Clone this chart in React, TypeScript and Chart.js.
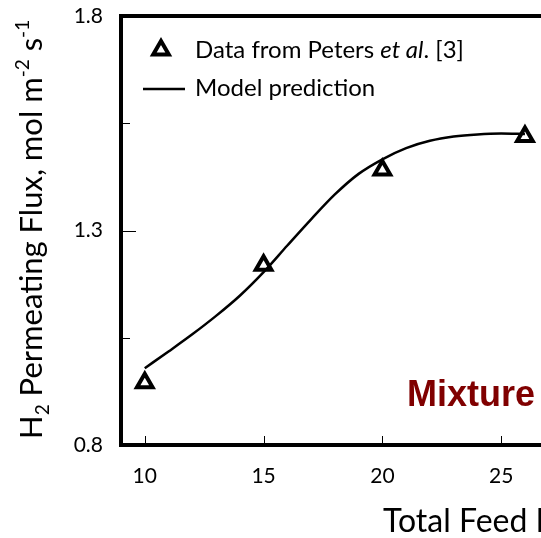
import React, { useEffect, useRef } from "react";
import { Chart, registerables } from "chart.js";

Chart.register(...registerables);

// Data
const dataX = [10, 15, 20, 26];
const dataY = [0.945, 1.219, 1.441, 1.519];
const modelX = [10, 11, 12, 13, 14, 15, 16, 17, 18, 19, 20, 21, 22, 23, 24, 25, 26];
const modelY = [0.979, 1.018, 1.058, 1.101, 1.148, 1.203, 1.265, 1.326, 1.384, 1.432, 1.466, 1.492, 1.509, 1.519, 1.524, 1.526, 1.525];
const xTickVals = [10, 15, 20, 25, 30];
const yTickVals = [0.8, 1.3, 1.8];
const yMinorTicks = [1.05, 1.55];

const FONT = "Lato, 'Open Sans', sans-serif";

type Seg = { t: string; font: string; dy?: number };
function drawRich(ctx: CanvasRenderingContext2D, segs: Seg[], x: number, y: number) {
  let cx = x;
  for (const s of segs) {
    ctx.font = s.font;
    ctx.fillText(s.t, cx, y + (s.dy || 0));
    cx += ctx.measureText(s.t).width;
  }
}

const decorPlugin = {
  id: "decor",
  afterDraw(chart: any) {
    const ctx: CanvasRenderingContext2D = chart.ctx;
    const a = chart.chartArea;
    const xs = chart.scales.x;
    const ys = chart.scales.y;
    ctx.save();
    ctx.strokeStyle = "#000";
    ctx.fillStyle = "#000";
    // inward ticks
    ctx.lineWidth = 1;
    ctx.beginPath();
    for (const v of xTickVals) {
      const px = Math.round(xs.getPixelForValue(v)) + 0.5;
      ctx.moveTo(px, a.bottom);
      ctx.lineTo(px, a.bottom - 9);
    }
    for (const v of yTickVals) {
      const py = Math.round(ys.getPixelForValue(v)) + 0.5;
      ctx.moveTo(a.left, py);
      ctx.lineTo(a.left + 15, py);
    }
    for (const v of yMinorTicks) {
      const py = Math.round(ys.getPixelForValue(v)) + 0.5;
      ctx.moveTo(a.left, py);
      ctx.lineTo(a.left + 9, py);
    }
    ctx.stroke();
    // frame
    ctx.lineWidth = 4;
    ctx.strokeRect(a.left, a.top, a.right - a.left, a.bottom - a.top);

    // legend
    ctx.textAlign = "left";
    ctx.textBaseline = "alphabetic";
    const lx = a.left + 40;
    const ly1 = a.top + 34;
    ctx.lineWidth = 4;
    ctx.lineJoin = "miter";
    ctx.beginPath();
    const r = 9;
    ctx.moveTo(lx, ly1 - r);
    ctx.lineTo(lx + r * 0.866, ly1 + r / 2);
    ctx.lineTo(lx - r * 0.866, ly1 + r / 2);
    ctx.closePath();
    ctx.stroke();
    const regular = `24px ${FONT}`;
    drawRich(ctx, [
      { t: "Data from Peters ", font: regular },
      { t: "et al", font: `italic 24px ${FONT}` },
      { t: ". [3]", font: regular },
    ], a.left + 74, a.top + 42);
    ctx.lineWidth = 2.5;
    ctx.beginPath();
    ctx.moveTo(a.left + 22, a.top + 73);
    ctx.lineTo(a.left + 64, a.top + 73);
    ctx.stroke();
    drawRich(ctx, [{ t: "Model prediction", font: regular }], a.left + 74, a.top + 80);

    // annotation
    ctx.fillStyle = "#800000";
    ctx.font = `bold 36px 'Liberation Sans', Arial, sans-serif`;
    ctx.fillText("Mixture", a.left + 286, a.bottom - 39);

    // x axis title
    ctx.fillStyle = "#000";
    drawRich(ctx, [{ t: "Total Feed Pressure, bar", font: `32px ${FONT}` }], a.left + 262, 532);

    // y axis title (rotated)
    ctx.translate(42, 439);
    ctx.rotate(-Math.PI / 2);
    const big = `31px ${FONT}`;
    const small = `19px ${FONT}`;
    drawRich(ctx, [
      { t: "H", font: big },
      { t: "2", font: small, dy: 7 },
      { t: " Permeating Flux, mol m", font: big },
      { t: "-2", font: small, dy: -13 },
      { t: " s", font: big },
      { t: "-1", font: small, dy: -13 },
    ], 0, 0);
    ctx.restore();
  },
};

export default function App() {
  const ref = useRef<HTMLCanvasElement>(null);
  useEffect(() => {
    const canvas = ref.current!;
    const chart = new Chart(canvas, {
      type: "scatter",
      data: {
        datasets: [
          {
            label: "Data from Peters et al. [3]",
            data: dataX.map((x, i) => ({ x, y: dataY[i] })),
            pointStyle: "triangle",
            pointRadius: 9,
            pointBorderWidth: 4,
            pointBorderColor: "#000",
            pointBackgroundColor: "rgba(0,0,0,0)",
            showLine: false,
          },
          {
            label: "Model prediction",
            data: modelX.map((x, i) => ({ x, y: modelY[i] })),
            showLine: true,
            borderColor: "#000",
            borderWidth: 2.5,
            pointRadius: 0,
            cubicInterpolationMode: "monotone",
          } as any,
        ],
      },
      options: {
        responsive: false,
        animation: false,
        devicePixelRatio: 1,
        layout: { padding: { left: 0, top: 16, right: 40, bottom: 0 } },
        plugins: { legend: { display: false }, tooltip: { enabled: false } },
        scales: {
          x: {
            type: "linear",
            min: 9,
            max: 30,
            afterBuildTicks: (s: any) => {
              s.ticks = xTickVals.map((v) => ({ value: v }));
            },
            afterFit: (s: any) => {
              s.height = 93;
              s.paddingLeft = 0;
              s.paddingRight = 0;
            },
            ticks: {
              font: { family: FONT, size: 21 },
              color: "#000",
              padding: 19,
              autoSkip: false,
              maxRotation: 0,
              callback: (v: any) => String(v),
            },
            grid: { display: false, drawTicks: false },
            border: { display: false },
          },
          y: {
            type: "linear",
            min: 0.8,
            max: 1.8,
            afterBuildTicks: (s: any) => {
              s.ticks = yTickVals.map((v) => ({ value: v }));
            },
            afterFit: (s: any) => {
              s.width = 121;
              s.paddingTop = 0;
              s.paddingBottom = 0;
            },
            ticks: {
              font: { family: FONT, size: 21 },
              color: "#000",
              padding: 18,
              callback: (v: any) => Number(v).toFixed(1),
            },
            grid: { display: false, drawTicks: false },
            border: { display: false },
          },
        },
      },
      plugins: [decorPlugin],
    });
    return () => chart.destroy();
  }, []);
  return (
    <div
      style={{
        position: "fixed",
        left: 0,
        top: 0,
        width: 541,
        height: 538,
        overflow: "hidden",
        background: "#fff",
      }}
    >
      <canvas ref={ref} width={660} height={538} style={{ display: "block", width: 660, height: 538 }} />
    </div>
  );
}
